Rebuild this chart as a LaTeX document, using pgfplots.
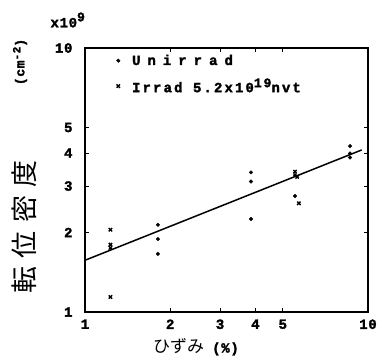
\documentclass[border=0pt]{standalone}
\usepackage{pgfplots}
\pgfplotsset{compat=1.18}
\usepackage{fontspec}
\setmainfont{Liberation Mono}[FakeBold=1.5]
\newfontfamily\tw[LetterSpace=15,FakeBold=2]{Liberation Mono Bold}
\newfontfamily\tu[LetterSpace=50,FakeBold=2]{Liberation Mono Bold}
\newfontfamily\tk[LetterSpace=5,FakeBold=2]{Liberation Mono Bold}
\newfontfamily\jp{Noto Sans CJK JP}
\newfontfamily\jpl[LetterSpace=30]{Noto Sans CJK JP}
\begin{document}
\begin{tikzpicture}
\path[use as bounding box] (-85pt,-47pt) rectangle (303pt,312pt);
\begin{axis}[
  at={(0,0)}, anchor=south west,
  scale only axis, width=283pt, height=264pt,
  xmode=log, ymode=log,
  xmin=1, xmax=10, ymin=1, ymax=10,
  xtick={1,2,3,4,5,10}, xticklabels={1,2,3,4,5,10},
  ytick={1,2,3,4,5,10}, yticklabels={1,2,3,4,5,10},
  minor xtick={}, minor ytick={},
  tick align=inside, major tick length=4pt,
  tick style={line width=1pt, black},
  axis line style={line width=2.5pt},
  tick label style={font=\tk\fontsize{14}{14}\selectfont},
  xticklabel style={yshift=-4pt},
  yticklabel style={xshift=-9pt},
  clip=false,
  legend style={at={(0.1,0.99)}, anchor=north west, draw=none, fill=none,
    font=\tw\fontsize{14}{14}\selectfont, row sep=8pt},
  legend cell align=left,
]
\addplot[only marks, mark=*, mark size=1.8pt, black] coordinates {
 (1.81,2.14) (1.81,1.89) (1.81,1.66)
 (3.86,3.38) (3.86,3.12) (3.86,2.25)
 (5.52,2.75) (5.52,3.30)
 (8.64,4.25) (8.64,3.99) (8.64,3.85)
};
\addlegendentry{\hspace{10pt}{\tu Unirrad}}
\addplot[only marks, mark=x, mark size=2.4pt, line width=1.4pt, black] coordinates {
 (1.23,2.05) (1.23,1.80) (1.23,1.75) (1.23,1.14)
 (5.52,3.40) (5.62,3.25) (5.70,2.58)
};
\addlegendentry{\hspace{10pt}Irrad 5.2x10\raisebox{5pt}{\fontsize{13}{13}\selectfont 19}nvt}
\addplot[no marks, line width=1.5pt, black, forget plot] coordinates {(1,1.57) (9.5,4.11)};
\end{axis}
\node[font=\jpl\fontsize{27}{27}\selectfont, rotate=90] at (-61pt,85pt) {転位密度};
\node[font=\tk\fontsize{13}{13}\selectfont, rotate=90] at (-65pt,250pt) {(cm\raisebox{4pt}{\fontsize{11}{11}\selectfont -2})};
\node[font=\tk\fontsize{14}{14}\selectfont, anchor=west] at (-38pt,292pt) {x10\raisebox{6pt}{\fontsize{13}{13}\selectfont 9}};
\node at (111pt,-35pt) {{\jp\fontsize{17}{17}\selectfont ひずみ}\hspace{8pt}{\tk\fontsize{14}{14}\selectfont(\%)}};
\end{tikzpicture}
\end{document}
